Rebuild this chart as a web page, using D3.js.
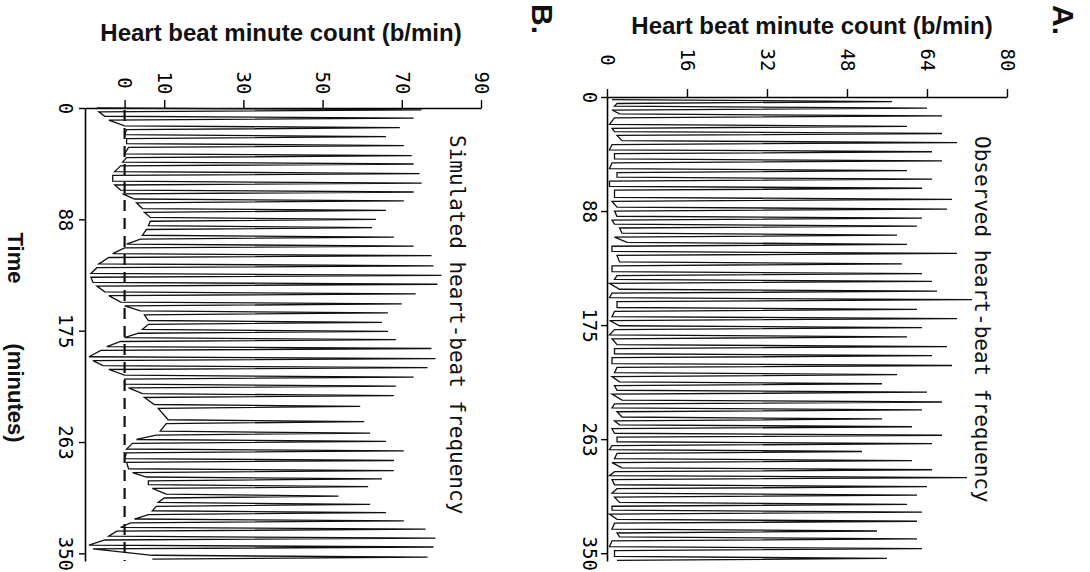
<!DOCTYPE html>
<html>
<head>
<meta charset="utf-8">
<script src="https://cdn.jsdelivr.net/npm/d3@7"></script>
<style>
  body { margin: 0; background: #fff; }
  svg { display: block; }
</style>
</head>
<body>
<div id="chart"></div>
<script>
// Observed heart-beat frequency (panel A): minute, beats per minute
const obsTime = [2,3.5,5, 7,8.5,10, 13,14.5,16, 21,22.5,24, 26.5,28,29.5, 33.5,35,36.5, 40.5,42,43.5, 47.5,49,50.5,
  55,56.5,58, 61.5,63,64.5, 68.5,70,71.5, 77,78.5,80, 84.5,86,87.5, 91.5,93,94.5, 97.5,99,100.5, 104.5,106,107.5,
  111.5,113,114.5, 118.5,120,121.5, 126.5,128,129.5, 134,135.5,137, 140,141.5,143, 147.5,149,150.5, 154,155.5,157,
  161.5,163,164.5, 168.5,170,171.5, 175.5,177,178.5, 182.5,184,185.5, 190,191.5,193, 197,198.5,200, 204.5,206,207.5,
  211.5,213,214.5, 218.5,220,221.5, 225,226.5,228, 232.5,234,235.5, 238.5,240,241.5, 245.5,247,248.5, 251.5,253,254.5,
  258,259.5,261, 264.5,266,267.5, 270.5,272,273.5, 277.5,279,280.5, 284.5,286,287.5, 290.5,292,293.5, 297.5,299,300.5,
  304,305.5,307, 311,312.5,314, 317,318.5,320, 324,325.5,327, 331.5,333,334.5, 337.5,339,340.5, 345,346.5,348, 352.5,354,355.5];
const obsCount = [1,57,2, 1.5,64,1, 2.5,67,1.5, 0.5,60,1, 1.5,67,2, 3,70,1, 0.5,65,1.5, 1.5,67,1,
  0.5,60,2, 2,65,0.5, 0.5,63,1.5, 1.5,69,1, 2,68,1.5, 2,63,1, 1.5,62,2.5, 3,58,1.5,
  4,60,1, 1,70,2, 2.5,59,1, 1,63,2, 1.5,65,0.5, 2.5,66,1, 0.5,73,2,
  2,62,1.5, 1,70,0.5, 2.5,63,1.5, 0.5,60,1, 2,68,1.5, 1.5,65,1, 1,69,2,
  1.5,58,1, 2.5,55,1.5, 2,64,1, 3,67,1.5, 1,63,2, 3,55,1.5, 2.5,61,1,
  1.5,67,2, 2,65,1, 0.5,51,2, 1.5,61,1, 3,65,1.5, 0.5,72,1, 1.5,64,2,
  1,62,1.5, 2.5,60,1, 1,63,0.5, 2,62,1.5, 1,54,2, 2.5,62,1, 0.5,63,1.5, 1.5,56,2];

// Simulated heart-beat frequency (panel B)
const simTime = [0,1.5,3, 6.5,8,9.5, 14,15.5,17, 21,22.5,24, 28,29.5,31, 36,37.5,39, 42.5,44,45.5, 50,51.5,53,
  57.5,59,60.5, 64.5,66,67.5, 71.5,73,74.5, 79,80.5,82, 86,87.5,89, 92.5,94,95.5, 100,101.5,103, 107,108.5,110,
  114.5,116,117.5, 122.5,124,125.5, 130,131.5,133, 137,138.5,140, 144.5,146,147.5, 152.5,154,155.5, 159.5,161,162.5,
  167,168.5,170, 174,175.5,177, 180.5,182,183.5, 187.5,189,190.5, 195.5,197,198.5, 202.5,204,205.5, 210,211.5,213,
  217,218.5,220, 224.5,226,227.5, 233,234.5,236, 245,246.5,248, 254,255.5,257, 260.5,262,263.5, 268,269.5,271,
  275.5,277,278.5, 283.5,285,286.5, 290,291.5,293, 296,297.5,299, 303.5,305,306.5, 310,311.5,313, 316.5,318,319.5,
  323,324.5,326, 329.5,331,332.5, 336.5,338,339.5, 343.5,345,346.5, 351.5,353,354.5];
const simCount = [-7,75,-6.5, -5,73,-4, 0,69.5,0.5, 0,66,0.5, 0.5,70.5,1, 0,72.5,0.5, -0.5,73,-1, -2.5,74.5,-3,
  -3,75,-2.5, -1,73,-0.5, 2.5,70.5,3, 4.5,66,5, 6.5,63.5,6.5, 6,62.5,5.5, 4.5,68,4, 0.5,73,0,
  -3,77.5,-4, -6.5,78,-7, -8.5,80,-8.5, -8,79,-7, -5,73.5,-4, -1,70,0, 4,66.5,5,
  6,65,6, 4.5,66.5,3.5, 0,68.5,-1, -4.5,77.5,-6, -9,78.5,-8, -5.5,76.5,-4, 0,73,0,
  0,68.5,1, 4.5,68,5, 7.5,59.5,8.5, 11,60.5,10.5, 9,62,8, 3,66,2, 0.5,70.5,0.5,
  0,68,0.5, 1,68,2, 5.5,65,6, 6,61.5,7, 10.5,54,10, 8.5,62,8, 7,66,6,
  2.5,70.5,1.5, -1,76,-2, -4,78.5,-5, -9,78,-8, 7,76.5,7];

const timeTicks = [0, 87.5, 175, 262.5, 350];
const obsCountTicks = [0, 16, 32, 48, 64, 80];
const simCountTicks = [0, 10, 30, 50, 70, 90];

const width = 1090;
const height = 572;
const monoFont = "'DejaVu Sans Mono', monospace";
const boldFont = "'Liberation Sans', Arial, sans-serif";

const svg = d3.select("#chart").append("svg")
    .attr("width", width)
    .attr("height", height);

svg.append("rect").attr("width", width).attr("height", height).attr("fill", "#fff");

// text that reads top to bottom (rotated 90 degrees clockwise)
function sideText(x, y, text, font, size, weight, anchor) {
    svg.append("text")
        .attr("transform", `translate(${x},${y}) rotate(90)`)
        .attr("dy", "0.35em")
        .attr("text-anchor", anchor || "middle")
        .attr("font-family", font)
        .attr("font-size", size)
        .attr("font-weight", weight || "normal")
        .attr("fill", "#111")
        .text(text);
}

function drawPanel(p) {
    const { x, y } = p;
    const g = svg.append("g");
    const top = y.range()[0];
    const left = x.range()[0];

    // count axis along the top
    g.append("g")
        .attr("transform", `translate(0,${top})`)
        .call(d3.axisTop(x).tickValues(p.countTicks).tickSize(8).tickSizeOuter(0))
        .call(a => a.select(".domain").attr("stroke-width", 1.6))
        .call(a => a.selectAll(".tick line").attr("stroke-width", 1.4))
        .call(a => a.selectAll(".tick text")
            .attr("y", null)
            .attr("dy", "0.35em")
            .attr("text-anchor", "middle")
            .attr("transform", `translate(0,${p.topLabelY - top}) rotate(90)`))
        .attr("font-family", monoFont)
        .attr("font-size", 19);

    // time axis on the left
    g.append("g")
        .attr("transform", `translate(${left},0)`)
        .call(d3.axisLeft(y).tickValues(timeTicks).tickFormat(d3.format(".0f")).tickSize(6).tickSizeOuter(0))
        .call(a => a.select(".domain").attr("stroke-width", 1.6))
        .call(a => a.selectAll(".tick line").attr("stroke-width", 1.4))
        .call(a => a.selectAll(".tick text")
            .attr("x", null)
            .attr("dy", "0.35em")
            .attr("text-anchor", "middle")
            .attr("transform", `translate(${p.leftLabelX - left},0) rotate(90)`))
        .attr("font-family", monoFont)
        .attr("font-size", 19);

    if (p.zeroLine) {
        g.append("line")
            .attr("x1", x(0)).attr("x2", x(0))
            .attr("y1", top + 2).attr("y2", y.range()[1])
            .attr("stroke", "#111")
            .attr("stroke-width", 2.2)
            .attr("stroke-dasharray", "11,7");
    }

    const line = d3.line()
        .x((d, i) => x(p.counts[i]))
        .y(d => y(d));

    g.append("path")
        .datum(p.times)
        .attr("d", line)
        .attr("fill", "none")
        .attr("stroke", "#111")
        .attr("stroke-width", 1.3)
        .attr("stroke-linejoin", "miter");
}

// A. observed
drawPanel({
    times: obsTime, counts: obsCount, countTicks: obsCountTicks,
    x: d3.scaleLinear().domain([0, 80]).range([607, 1007]),
    y: d3.scaleLinear().domain([0, 356]).range([97, 561]),
    topLabelY: 60, leftLabelX: 590
});

// B. simulated
drawPanel({
    times: simTime, counts: simCount, countTicks: simCountTicks,
    x: d3.scaleLinear().domain([-10, 90]).range([85, 481]),
    y: d3.scaleLinear().domain([0, 356]).range([108, 561]),
    topLabelY: 83, leftLabelX: 66, zeroLine: true
});

// titles
svg.append("text")
    .attr("x", 812).attr("y", 34)
    .attr("text-anchor", "middle")
    .attr("font-family", boldFont).attr("font-weight", "bold").attr("font-size", 24)
    .attr("fill", "#111")
    .text("Heart beat minute count (b/min)");

svg.append("text")
    .attr("x", 281).attr("y", 41)
    .attr("text-anchor", "middle")
    .attr("font-family", boldFont).attr("font-weight", "bold").attr("font-size", 24)
    .attr("fill", "#111")
    .text("Heart beat minute count (b/min)");

sideText(982, 136, "Observed heart-beat frequency", monoFont, 21, "normal", "start");
sideText(457, 135, "Simulated heart-beat frequency", monoFont, 21, "normal", "start");

sideText(1063, 5, "A.", boldFont, 30, "bold", "start");
sideText(542, 4, "B.", boldFont, 30, "bold", "start");

sideText(16, 258, "Time", boldFont, 22, "bold");
sideText(16, 393, "(minutes)", boldFont, 22, "bold");
</script>
</body>
</html>
